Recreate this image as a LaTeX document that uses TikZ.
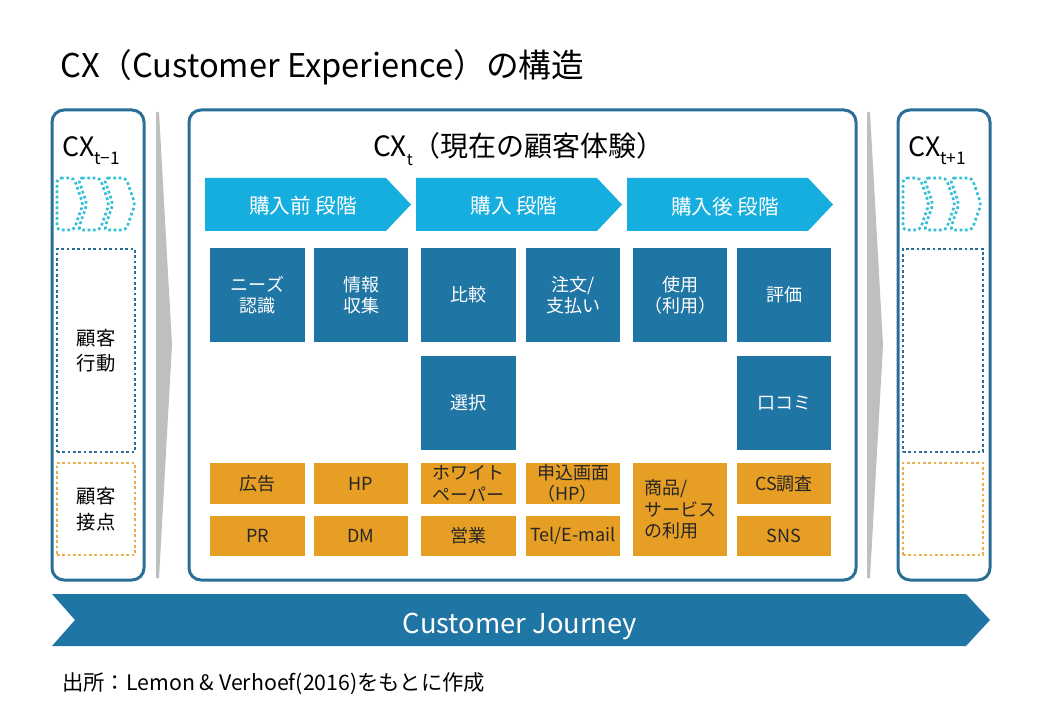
\documentclass[tikz,border=0pt]{standalone}
\usepackage{fontspec}
\setmainfont{Noto Sans CJK JP}
\usetikzlibrary{fit}
\definecolor{panelc}{RGB}{41,111,150}
\definecolor{dblue}{RGB}{31,117,163}
\definecolor{cyanar}{RGB}{22,174,222}
\definecolor{orangec}{RGB}{230,159,36}
\definecolor{dotcyan}{RGB}{50,190,215}
\definecolor{dotblue}{RGB}{40,110,150}
\definecolor{dotorange}{RGB}{234,172,72}
\definecolor{grayc}{RGB}{191,191,191}
\newcommand\mysub[2]{\raisebox{-0.55ex}{\fontsize{#1}{#1}\selectfont #2}}
\begin{document}
\begin{tikzpicture}[x=0.75pt,y=-0.75pt,
  rect/.style n args={4}{at={({(#1+#3)/2},{(#2+#4)/2})}, minimum width={(#3-#1)*0.75pt}, minimum height={(#4-#2)*0.75pt}},
  panel/.style={draw=panelc, line width=2.25pt, rounded corners=9pt, fill=white, inner sep=0pt},
  dbox/.style={fill=dblue, text=white, inner sep=0pt, align=center, font=\fontsize{13.5}{16}\selectfont},
  obox/.style={fill=orangec, text=black!85, inner sep=0pt, align=center, font=\fontsize{13.5}{16}\selectfont},
  stagear/.style={fill=cyanar},
  stagetxt/.style={text=white, font=\fontsize{15.5}{18}\selectfont},
  dotcy/.style={draw=dotcyan, line width=2pt, dash pattern=on 2pt off 2pt, rounded corners=3pt},
  dotbl/.style={draw=dotblue, line width=2pt, dash pattern=on 2pt off 2pt, inner sep=0pt, align=center, font=\fontsize{14.5}{19}\selectfont},
  dotor/.style={draw=dotorange, line width=2pt, dash pattern=on 2pt off 2pt, inner sep=0pt, align=center, font=\fontsize{14.5}{19}\selectfont},
  plabel/.style={font=\fontsize{20}{22}\selectfont, inner sep=0pt}
]
\useasboundingbox (0,0) rectangle (1040,720);

% title
\node[anchor=base west, inner sep=0pt, font=\fontsize{24.5}{30}\selectfont] (title) at (60,78) {CX（Customer Experience）の構造};

% gray transition wedges
\fill[grayc] (156,112) -- (159,112) -- (172,345) -- (159,578) -- (156,578) -- cycle;
\fill[grayc] (867,112) -- (870,112) -- (883,345) -- (870,578) -- (867,578) -- cycle;

% panels
\node (pleft) [panel, rect={52}{110}{144}{580}] {};
\node (pcenter) [panel, rect={189}{110}{856}{580}] {};
\node (pright) [panel, rect={898}{110}{990}{580}] {};

% side panel labels
\node[plabel, anchor=base west] (lt) at (62,157) {CX\mysub{13}{t−1}};
\node[plabel, anchor=base west] (rt) at (908,157) {CX\mysub{13}{t+1}};

% mini chevrons
\foreach \dx in {0,846}{
  \begin{scope}[shift={(\dx,0)}]
    \draw[dotcy] (57,178) -- (74,178) -- (83,204) -- (74,230) -- (57,230) -- cycle;
    \draw[dotcy] (78,178) -- (100,178) -- (109,204) -- (100,230) -- (78,230) -- (87,204) -- cycle;
    \draw[dotcy] (104,178) -- (126,178) -- (135,204) -- (126,230) -- (104,230) -- (113,204) -- cycle;
  \end{scope}
}

% side dotted boxes
\node (lact) [dotbl, rect={57}{249}{135}{452}] {顧客\\行動};
\node (ltp) [dotor, rect={57}{463}{135}{555}] {顧客\\接点};
\node (ract) [dotbl, rect={903}{249}{983}{452}] {};
\node (rtp) [dotor, rect={903}{463}{983}{555}] {};

% center title
\node[font=\fontsize{21}{24}\selectfont, anchor=base, inner sep=0pt] (ctitle) at (519,157) {CX\mysub{12}{t}（現在の顧客体験）};

% stage arrows
\fill[stagear] (205,178) -- (386,178) -- (411,204.5) -- (386,231) -- (205,231) -- cycle;
\fill[stagear] (416,178) -- (597,178) -- (622,204.5) -- (597,231) -- (416,231) -- cycle;
\fill[stagear] (627,178) -- (808,178) -- (833,204.5) -- (808,231) -- (627,231) -- cycle;
\node[stagetxt] (s1) at (303,206) {購入前 段階};
\node[stagetxt] (s2) at (514,206) {購入 段階};
\node[stagetxt] (s3) at (725,207) {購入後 段階};

% dark blue boxes row 1
\node (b1) [dbox, rect={210}{248}{305}{342}] {ニーズ\\認識};
\node (b2) [dbox, rect={314}{248}{408}{342}] {情報\\収集};
\node (b3) [dbox, rect={421}{248}{516}{342}] {比較};
\node (b4) [dbox, rect={526}{248}{620}{342}] {注文/\\支払い};
\node (b5) [dbox, rect={633}{248}{727}{342}] {使用\\（利用）};
\node (b6) [dbox, rect={737}{248}{831}{342}] {評価};
% row 2
\node (b7) [dbox, rect={421}{356}{516}{450}] {選択};
\node (b8) [dbox, rect={737}{356}{831}{450}] {口コミ};

% orange touchpoints
\node (o1) [obox, rect={210}{463}{305}{504}] {広告};
\node (o2) [obox, rect={314}{463}{408}{504}] {HP};
\node (o3) [obox, rect={421}{463}{516}{504}] {ホワイト\\ペーパー};
\node (o4) [obox, rect={526}{463}{620}{504}, align=left] {申込画面\\（HP）};
\node (o5) [obox, rect={633}{463}{727}{556}, align=left] {商品/\\サービス\\の利用};
\node (o6) [obox, rect={737}{463}{831}{504}] {CS調査};
\node (o7) [obox, rect={210}{516}{305}{556}] {PR};
\node (o8) [obox, rect={314}{516}{408}{556}] {DM};
\node (o9) [obox, rect={421}{516}{516}{556}] {営業};
\node (o10) [obox, rect={526}{516}{620}{556}] {Tel/E-mail};
\node (o11) [obox, rect={737}{516}{831}{556}] {SNS};

% customer journey
\fill[dblue] (52,594) -- (966,594) -- (990,620) -- (966,646) -- (52,646) -- (75,620) -- cycle;
\node[text=white, font=\fontsize{20.5}{24}\selectfont] (cj) at (520,627) {Customer Journey};

% source
\node[anchor=base west, inner sep=0pt, font=\fontsize{16}{19}\selectfont] (src) at (62,690) {出所：Lemon \& Verhoef(2016)をもとに作成};
\end{tikzpicture}
\end{document}
